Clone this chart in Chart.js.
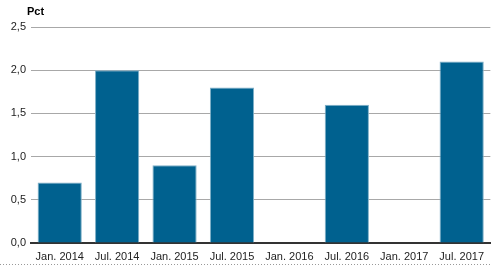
<!DOCTYPE html>
<html>
<head>
<meta charset="utf-8">
<script src="https://cdn.jsdelivr.net/npm/chart.js@4"></script>
<style>
  html, body { margin: 0; padding: 0; background: #fff; }
  #wrap { width: 491px; height: 265px; position: relative; }
</style>
</head>
<body>
<div id="wrap"><canvas id="chart"></canvas></div>
<script>
const categories = ['Jan. 2014', 'Jul. 2014', 'Jan. 2015', 'Jul. 2015', 'Jan. 2016', 'Jul. 2016', 'Jan. 2017', 'Jul. 2017'];
const values = [0.7, 2.0, 0.9, 1.8, null, 1.6, null, 2.1];
const unitLabel = 'Pct';

// "Pct" over the y axis and the dotted line at the very bottom
const extras = {
    id: 'extras',
    afterDraw(chart) {
        const ctx = chart.ctx;
        ctx.save();
        ctx.font = 'bold 11px "Liberation Sans", Arial, sans-serif';
        ctx.fillStyle = '#000';
        ctx.textBaseline = 'middle';
        ctx.fillText(unitLabel, 27, 12);
        ctx.strokeStyle = '#999';
        ctx.setLineDash([1, 2]);
        ctx.lineWidth = 1;
        ctx.beginPath();
        ctx.moveTo(0, 264.5);
        ctx.lineTo(chart.width, 264.5);
        ctx.stroke();
        ctx.restore();
    }
};

new Chart(document.getElementById('chart').getContext('2d'), {
    type: 'bar',
    data: {
        labels: categories,
        datasets: [{
            data: values,
            backgroundColor: '#00618f',
            borderColor: '#7fb0c8',
            borderWidth: 1,
            barPercentage: 0.77,
            categoryPercentage: 1
        }]
    },
    options: {
        responsive: true,
        maintainAspectRatio: false,
        animation: false,
        layout: { padding: { top: 27, right: 0, bottom: 0, left: 0 } },
        plugins: {
            legend: { display: false },
            tooltip: { enabled: false }
        },
        scales: {
            x: {
                afterFit(scale) { scale.height = 22; },
                grid: { display: false, drawTicks: false },
                border: { color: '#333', width: 2 },
                ticks: {
                    color: '#222',
                    padding: 7,
                    maxRotation: 0,
                    autoSkip: false,
                    font: { family: '"Liberation Sans", Arial, sans-serif', size: 11 }
                }
            },
            y: {
                min: 0,
                max: 2.5,
                afterFit(scale) { scale.width = 31; },
                grid: { color: '#a8a8a8', lineWidth: 1, drawTicks: false },
                border: { display: false },
                ticks: {
                    stepSize: 0.5,
                    padding: 5,
                    color: '#222',
                    font: { family: '"Liberation Sans", Arial, sans-serif', size: 11 },
                    callback: v => v.toFixed(1).replace('.', ',')
                }
            }
        }
    },
    plugins: [extras]
});
</script>
</body>
</html>
